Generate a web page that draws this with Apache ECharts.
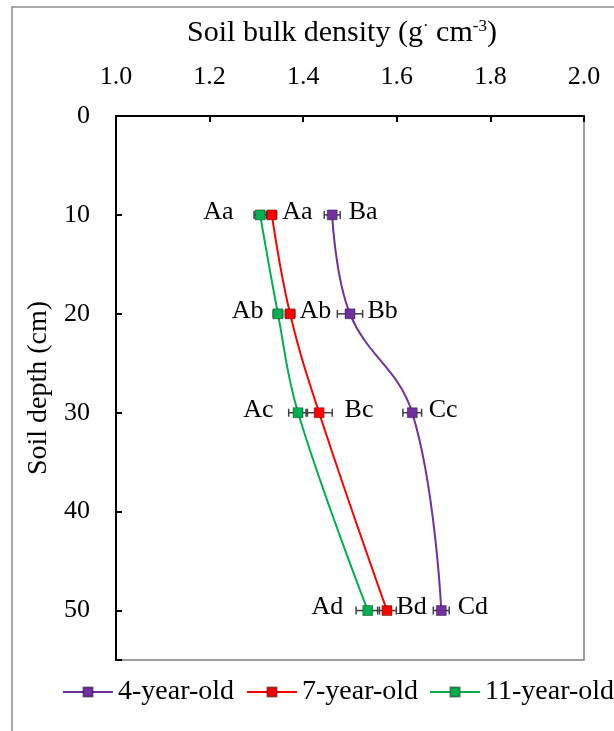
<!DOCTYPE html>
<html>
<head>
<meta charset="utf-8">
<script src="https://cdn.jsdelivr.net/npm/echarts@6/dist/echarts.min.js"></script>
<style>
  html, body { margin: 0; padding: 0; background: #fff; }
  #main { width: 614px; height: 731px; }
</style>
</head>
<body>
<div id="main"></div>
<script>
// depths (cm)
var depths = [10, 20, 30, 50];
// bulk density values
var old4 = [1.462, 1.500, 1.633, 1.695];
var old7 = [1.333, 1.372, 1.434, 1.579];
var old11 = [1.308, 1.346, 1.389, 1.538];
// error bar half widths
var err4 = [0.017, 0.027, 0.020, 0.017];
var err7 = [0.010, 0.010, 0.028, 0.020];
var err11 = [0.013, 0.010, 0.020, 0.025];
// letters
var lab4 = ['Ba', 'Bb', 'Cc', 'Cd'];
var lab7 = ['Aa', 'Ab', 'Bc', 'Bd'];
var lab11 = ['Aa', 'Ab', 'Ac', 'Ad'];
var names = ['4-year-old', '7-year-old', '11-year-old'];
var colors = ['#7030A0', '#FF0000', '#00B050'];
// label gap from marker (px), style only
var gap4 = [11, 12, 11, 11];
var gap7 = [5, 4, 20, 4];
var gap11 = [21, 9, 19, 19];
// legend item left edges (px)
var legendLeft = [62, 246, 429];

var font = '"Liberation Serif", "Times New Roman", serif';

function pts(vals, labs, gaps) {
  var out = [];
  for (var i = 0; i < vals.length; i++) {
    out.push({ value: [vals[i], depths[i]], name: labs[i], label: { distance: gaps[i] } });
  }
  return out;
}

function errData(vals, errs) {
  var out = [];
  for (var i = 0; i < vals.length; i++) {
    out.push([vals[i] - errs[i], vals[i] + errs[i], depths[i]]);
  }
  return out;
}

function errSeries(vals, errs) {
  return {
    type: 'custom',
    z: 1,
    silent: true,
    data: errData(vals, errs),
    renderItem: function (params, api) {
      var a = api.coord([api.value(0), api.value(2)]);
      var b = api.coord([api.value(1), api.value(2)]);
      var h = 4;
      var st = { stroke: '#404040', lineWidth: 1.5 };
      return {
        type: 'group',
        children: [
          { type: 'line', shape: { x1: a[0], y1: a[1], x2: b[0], y2: b[1] }, style: st },
          { type: 'line', shape: { x1: a[0], y1: a[1] - h, x2: a[0], y2: a[1] + h }, style: st },
          { type: 'line', shape: { x1: b[0], y1: b[1] - h, x2: b[0], y2: b[1] + h }, style: st }
        ]
      };
    }
  };
}

function lineSeries(idx, vals, labs, gaps, pos) {
  return {
    name: names[idx],
    type: 'line',
    z: 3,
    smooth: 0.4,
    data: pts(vals, labs, gaps),
    symbol: 'rect',
    symbolSize: 10,
    lineStyle: { color: colors[idx], width: 2 },
    itemStyle: { color: colors[idx], borderColor: 'rgba(0,0,0,0.35)', borderWidth: 1 },
    label: {
      show: true,
      position: pos,
      offset: [0, -3],
      formatter: function (p) { return p.name; },
      fontFamily: font,
      fontSize: 26,
      color: '#000'
    }
  };
}

var legends = names.map(function (n, i) {
  return {
    data: [n],
    bottom: 25,
    left: legendLeft[i],
    padding: 0,
    itemWidth: 50,
    itemHeight: 12,
    textStyle: { fontFamily: font, fontSize: 28, color: '#000' }
  };
});

var chart = echarts.init(document.getElementById('main'));
chart.setOption({
  animation: false,
  textStyle: { fontFamily: font },
  graphic: [{
    type: 'rect',
    shape: { x: 12, y: 7, width: 800, height: 900 },
    style: { fill: 'none', stroke: '#8c8c8c', lineWidth: 1.5 },
    silent: true
  }],
  grid: {
    left: 116, top: 116, right: 30, bottom: 71,
    show: true, borderColor: '#7f7f7f', borderWidth: 1.5
  },
  legend: legends,
  xAxis: {
    type: 'value',
    position: 'top',
    min: 1.0, max: 2.0, interval: 0.2,
    name: 'Soil bulk density (g{sup|·} cm{sup|-3})',
    nameLocation: 'middle',
    nameGap: 68,
    nameTextStyle: {
      fontFamily: font, fontSize: 30, color: '#000',
      padding: [0, 16, 0, 0],
      rich: { sup: { fontFamily: font, fontSize: 17, color: '#000', verticalAlign: 'top', padding: [0, 0, 12, 0] } }
    },
    axisLine: { lineStyle: { color: '#000', width: 2 } },
    axisTick: { inside: true, length: 6, lineStyle: { color: '#000', width: 2 } },
    axisLabel: {
      margin: 26, fontFamily: font, fontSize: 26, color: '#000',
      formatter: function (v) { return v.toFixed(1); }
    },
    splitLine: { show: false }
  },
  yAxis: {
    type: 'value',
    inverse: true,
    min: 0, max: 55, interval: 10,
    name: 'Soil depth (cm)',
    nameLocation: 'middle',
    nameGap: 59,
    nameTextStyle: { fontFamily: font, fontSize: 28, color: '#000' },
    axisLine: { lineStyle: { color: '#000', width: 2 } },
    axisTick: { inside: true, length: 6, lineStyle: { color: '#000', width: 2 } },
    axisLabel: {
      margin: 26, fontFamily: font, fontSize: 26, color: '#000',
      formatter: function (v) { return v % 10 === 0 ? String(v) : ''; }
    },
    splitLine: { show: false }
  },
  series: [
    errSeries(old4, err4),
    errSeries(old7, err7),
    errSeries(old11, err11),
    lineSeries(0, old4, lab4, gap4, 'right'),
    lineSeries(1, old7, lab7, gap7, 'right'),
    lineSeries(2, old11, lab11, gap11, 'left')
  ]
});
</script>
</body>
</html>
